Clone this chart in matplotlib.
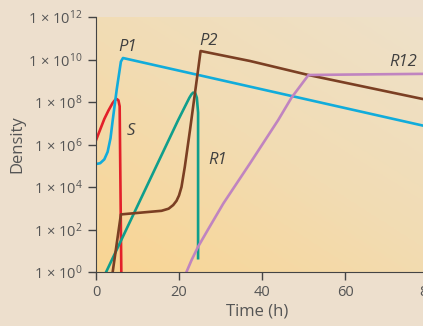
import numpy as np
import matplotlib.pyplot as plt
from matplotlib.colors import LinearSegmentedColormap

plt.rcParams['font.family'] = ['Open Sans', 'DejaVu Sans']
plt.rcParams['mathtext.fontset'] = 'custom'
plt.rcParams['mathtext.rm'] = 'Open Sans'
plt.rcParams['mathtext.it'] = 'Open Sans:italic'

# log10(density) vs time (h)
s_t = [0, 1, 2, 3, 4, 4.6, 5.0, 5.4, 5.7, 6.1, 6.2]
s_y = [6.2, 6.7, 7.2, 7.6, 7.95, 8.1, 8.14, 8.08, 7.8, 0, -1]

p1_t = [0, 1, 2, 2.8, 3.5, 4.0, 5.0, 6.0, 6.5, 79, 82]
p1_y = [5.08, 5.12, 5.3, 5.65, 6.3, 7.1, 8.6, 9.9, 10.07, 6.88, 6.75]

p2_t = [3.8, 6.0, 10, 15.8, 17.5, 18.6, 19.4, 20.0, 20.6, 21.4, 22.65,
        24.7, 25.2, 37.1, 51.2, 79, 82]
p2_y = [-0.3, 2.71, 2.78, 2.88, 2.98, 3.15, 3.35, 3.6, 4.0, 4.95, 6.68,
        9.66, 10.4, 9.93, 9.27, 8.13, 8.0]

r1_t = [2.2, 19.8, 22.5, 23.0, 23.4, 23.9, 24.3, 24.6, 24.6]
r1_y = [-0.1, 7.15, 8.2, 8.36, 8.44, 8.42, 8.2, 7.5, 0.65]

r12_t = [21.8, 23, 24.6, 27, 30.7, 37.1, 43.9, 47.1, 51.2, 60, 82]
r12_y = [0, 0.55, 1.19, 2.0, 3.23, 5.11, 7.15, 8.2, 9.27, 9.29, 9.33]

yticks = [0, 2, 4, 6, 8, 10, 12]
xticks = [0, 20, 40, 60, 80]

fig = plt.figure(figsize=(4.23, 3.26), dpi=100, facecolor='#EDDFCD')
# axes is wider than the figure, the reference is cropped on the right
ax = fig.add_axes([96/423, 54/326, 332/423, 255/326])

cmap = LinearSegmentedColormap.from_list('bg', ['#F9D593', '#F2DCB3', '#EEE1CA'])
gx, gy = np.meshgrid(np.linspace(0, 1, 200), np.linspace(0, 1, 200))
grad = (gx * 0.75 + gy * 0.9) / 1.65
ax.imshow(grad, cmap=cmap, extent=[0, 80, 0, 12], origin='lower',
          aspect='auto', zorder=0)

lw = 1.9
ax.plot(s_t, s_y, color='#E3202A', lw=lw)
ax.plot(p1_t, p1_y, color='#11ACDB', lw=lw)
ax.plot(r1_t, r1_y, color='#0F9E8C', lw=lw)
ax.plot(p2_t, p2_y, color='#7B3F23', lw=lw)
ax.plot(r12_t, r12_y, color='#C084C0', lw=lw)

tc = '#404040'
lab = dict(color=tc, fontsize=12, style='italic', ha='center', va='center')
ax.text(7.7, 10.6, 'P1', **lab)
ax.text(27.0, 10.87, 'P2', **lab)
ax.text(8.4, 6.63, 'S', **lab)
ax.text(29.2, 5.27, 'R1', **lab)
ax.text(74.0, 9.88, 'R12', **lab)

ax.set_xlim(0, 80)
ax.set_ylim(0, 12)
ax.set_xticks(xticks)
ax.set_yticks(yticks)
ax.set_yticklabels([r'1 × 10$^{%d}$' % v for v in yticks])
ax.tick_params(colors='#444444', labelcolor='#555555', labelsize=10.5,
               length=6, width=1)
for side in ['top', 'right']:
    ax.spines[side].set_visible(False)
for side in ['left', 'bottom']:
    ax.spines[side].set_color('#444444')
ax.set_xlabel('Time (h)', color='#555555', fontsize=12, labelpad=3)
ax.set_ylabel('Density', color='#555555', fontsize=12, labelpad=2)
ax.xaxis.set_label_coords((257 - 96) / 332, -0.125)

fig.savefig('out.png', dpi=100, facecolor=fig.get_facecolor())
